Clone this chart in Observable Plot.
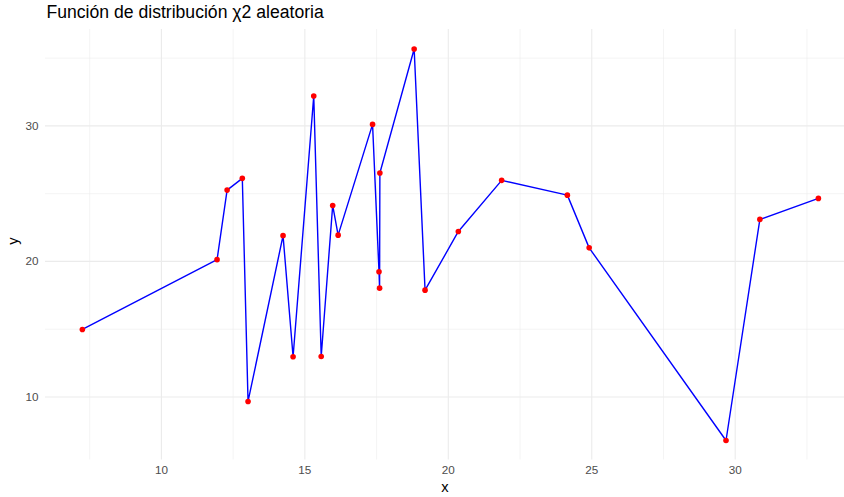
<!DOCTYPE html>
<html>
<head>
<meta charset="utf-8">
<script src="https://cdn.jsdelivr.net/npm/d3@7"></script>
<script src="https://cdn.jsdelivr.net/npm/@observablehq/plot@0.6"></script>
<style>
  html, body { margin: 0; padding: 0; background: #fff; }
</style>
</head>
<body>
<div id="chart"></div>
<script>
const titleText = "Función de distribución χ2 aleatoria";
const xs = [7.245, 11.94, 12.29, 12.82, 13.02, 14.24, 14.59, 15.31, 15.57, 15.97, 16.16, 17.36, 17.585, 17.605, 17.615, 18.81, 19.19, 20.35, 21.86, 24.15, 24.91, 29.68, 30.86, 32.90];
const ys = [14.98, 20.13, 25.26, 26.13, 9.67, 21.90, 12.97, 32.20, 12.99, 24.13, 21.94, 30.11, 19.24, 18.03, 26.52, 35.67, 17.88, 22.21, 25.98, 24.89, 21.00, 6.79, 23.10, 24.65];
const xMajor = [10, 15, 20, 25, 30];
const xMinor = [7.5, 12.5, 17.5, 22.5, 27.5, 32.5];
const yMajor = [10, 20, 30];
const yMinor = [15, 25, 35];

const data = xs.map((x, i) => ({x, y: ys[i]}));

const W = 844, H = 497;
const chart = Plot.plot({
  width: W,
  height: H,
  marginLeft: 45,
  marginRight: 0,
  marginTop: 29,
  marginBottom: 37.5,
  style: {fontFamily: "Liberation Sans, Arial, sans-serif", background: "#fff"},
  x: {domain: [5.96, 33.81]},
  y: {domain: [5.35, 37.11]},
  marks: [
    Plot.ruleX(xMinor, {stroke: "#ebebeb", strokeWidth: 0.55}),
    Plot.ruleY(yMinor, {stroke: "#ebebeb", strokeWidth: 0.55}),
    Plot.ruleX(xMajor, {stroke: "#ebebeb", strokeWidth: 1.1}),
    Plot.ruleY(yMajor, {stroke: "#ebebeb", strokeWidth: 1.1}),
    Plot.axisX(xMajor, {tickSize: 0, tickPadding: 6, fontSize: 11.7, color: "#4d4d4d", label: null}),
    Plot.axisY(yMajor, {tickSize: 0, tickPadding: 7, fontSize: 11.7, color: "#4d4d4d", label: null}),
    Plot.line(data, {x: "x", y: "y", stroke: "#0000ff", strokeWidth: 1.4}),
    Plot.dot(data, {x: "x", y: "y", fill: "#ff0000", r: 2.8}),
    Plot.text(["x"], {frameAnchor: "bottom", dy: 27, lineAnchor: "middle", fontSize: 14.7, fill: "#000"}),
    Plot.text(["y"], {frameAnchor: "left", dx: -32, rotate: -90, lineAnchor: "middle", fontSize: 14.7, fill: "#000"}),
    Plot.text([titleText], {frameAnchor: "top-left", dx: 1, dy: -17, textAnchor: "start", lineAnchor: "middle", fontSize: 17.6, fill: "#000"})
  ]
});
document.getElementById("chart").appendChild(chart);
</script>
</body>
</html>
